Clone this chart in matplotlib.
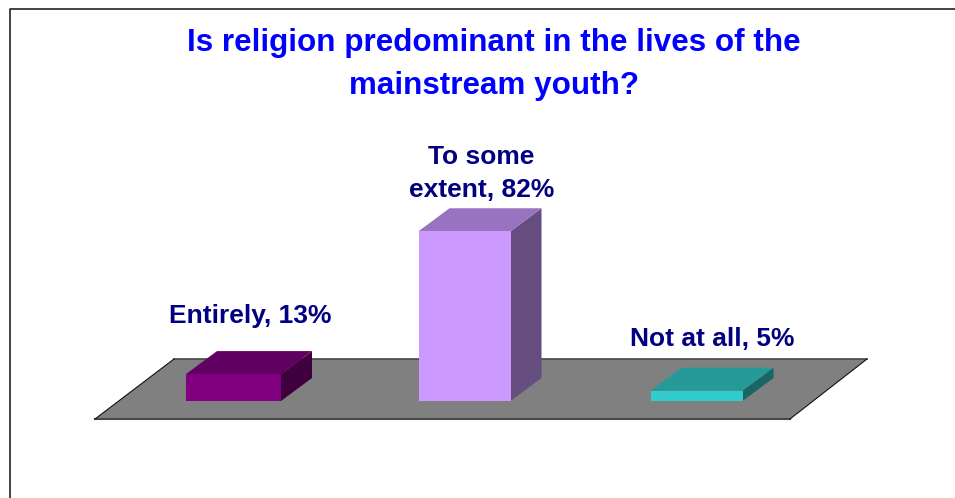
import matplotlib
matplotlib.use('Agg')
import matplotlib.pyplot as plt
import matplotlib.patches as patches

plt.rcParams['font.family'] = ['Liberation Sans', 'DejaVu Sans']

# data
categories = ['Entirely', 'To some\nextent', 'Not at all']
values = [13, 82, 5]
title = 'Is religion predominant in the lives of the\nmainstream youth?'
front_colors = ['#800080', '#CC99FF', '#33CCCC']
top_colors = ['#600060', '#9973BF', '#269999']
side_colors = ['#400040', '#664D80', '#1A6666']

W, H = 955, 498
fig = plt.figure(figsize=(W / 100, H / 100), dpi=100)
ax = fig.add_axes([0, 0, 1, 1])

# one category = 232 px, one percent = 2.07 px, baseline at y=401 px
PX_X = 232.0
PX_Y = 2.07
ax.set_xlim(-233.5 / PX_X, (W - 233.5) / PX_X)
ax.set_ylim(-(H - 401) / PX_Y, 401 / PX_Y)
ax.axis('off')

bar_w = [95 / PX_X, 92 / PX_X, 92 / PX_X]
bar_shift = [0, -1 / PX_X, -1 / PX_X]
dx = 31 / PX_X
dy = 23 / PX_Y

# floor
floor = [(95, 419), (790, 419), (867, 359), (174, 359)]
floor_xy = [((x - 233.5) / PX_X, (401 - y) / PX_Y) for x, y in floor]
ax.add_patch(patches.Polygon(floor_xy, facecolor='#808080', edgecolor='none', zorder=1))
ax.plot([floor_xy[0][0], floor_xy[1][0]], [floor_xy[0][1]] * 2, color='#484848', lw=1.5, zorder=2)
ax.plot([floor_xy[3][0], floor_xy[2][0]], [floor_xy[3][1]] * 2, color='#484848', lw=1.2, zorder=2)
ax.plot([floor_xy[0][0], floor_xy[3][0]], [floor_xy[0][1], floor_xy[3][1]], color='#111111', lw=0.8, zorder=2)
ax.plot([floor_xy[1][0], floor_xy[2][0]], [floor_xy[1][1], floor_xy[2][1]], color='#111111', lw=0.8, zorder=2)

# 3d bars
label_offset = [(17, 58), (16, 57.5), (15, 52)]
for i, v in enumerate(values):
    l = i + bar_shift[i] - bar_w[i] / 2
    r = i + bar_shift[i] + bar_w[i] / 2
    ax.add_patch(patches.Polygon([(r, 0), (r + dx, dy), (r + dx, v + dy), (r, v)],
                                 facecolor=side_colors[i], edgecolor='none', zorder=3))
    ax.add_patch(patches.Polygon([(l, v), (r, v), (r + dx, v + dy), (l + dx, v + dy)],
                                 facecolor=top_colors[i], edgecolor='none', zorder=3))
    ax.add_patch(patches.Rectangle((l, 0), bar_w[i], v, facecolor=front_colors[i],
                                   edgecolor='none', zorder=4))
    ax.text(i + label_offset[i][0] / PX_X, v + label_offset[i][1] / PX_Y,
            f'{categories[i]}, {v}%', ha='center', va='center', ma='center',
            fontsize=19, fontweight='bold', color='#000080', linespacing=1.46, zorder=5)

# title
fig.text(494 / W, 1 - 64.5 / H, title, ha='center', va='center', ma='center',
         fontsize=22.6, fontweight='bold', color='#0000FF', linespacing=1.57)

# outer frame, left and top only
fig.add_artist(plt.Line2D([9.5 / W, 9.5 / W, 1], [0, 1 - 9.5 / H, 1 - 9.5 / H],
                          color='#222222', lw=1.2))

fig.savefig('out.png', dpi=100)
